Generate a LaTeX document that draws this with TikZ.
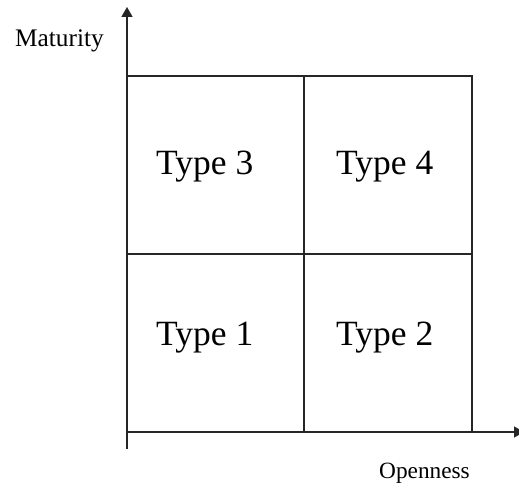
\documentclass[tikz,border=0pt]{standalone}
\usepackage{fontspec}
\setmainfont{Liberation Serif}
\usetikzlibrary{arrows.meta}
\begin{document}
\begin{tikzpicture}[x=1pt,y=-1pt,
  axisline/.style={line width=1.4pt,draw=black!85,-{Triangle[length=10pt,width=11pt]}},
  gridline/.style={line width=1.4pt,draw=black!85},
  typelabel/.style={anchor=base west,inner sep=0pt,font=\fontsize{35.5}{42}\selectfont},
  axislabel/.style={anchor=base west,inner sep=0pt,font=\fontsize{23.3}{28}\selectfont}]
\useasboundingbox (0,0) rectangle (519,486);
% axes
\coordinate (origin) at (127,432);
\coordinate (ybottom) at (127,449);
\coordinate (ytop) at (127,7);
\coordinate (xright) at (524,432);
\draw[axisline] (ybottom) -- (ytop);
\draw[axisline] (origin) -- (xright);
% quadrant grid
\coordinate (tl) at (127,76);
\coordinate (tr) at (472,76);
\coordinate (br) at (472,432);
\coordinate (tm) at (304,76);
\coordinate (bm) at (304,432);
\coordinate (ml) at (127,254);
\coordinate (mr) at (472,254);
\draw[gridline] (tl) -- (tr) -- (br);
\draw[gridline] (tm) -- (bm);
\draw[gridline] (ml) -- (mr);
% quadrant labels
\node[typelabel] (t3) at (156,175) {Type 3};
\node[typelabel] (t4) at (336,175) {Type 4};
\node[typelabel] (t1) at (156,345) {Type 1};
\node[typelabel] (t2) at (336,345) {Type 2};
% axis labels
\node[axislabel,font=\fontsize{25.3}{30}\selectfont] (mat) at (15,47) {Maturity};
\node[axislabel] (open) at (379,478) {Openness};
\end{tikzpicture}
\end{document}
